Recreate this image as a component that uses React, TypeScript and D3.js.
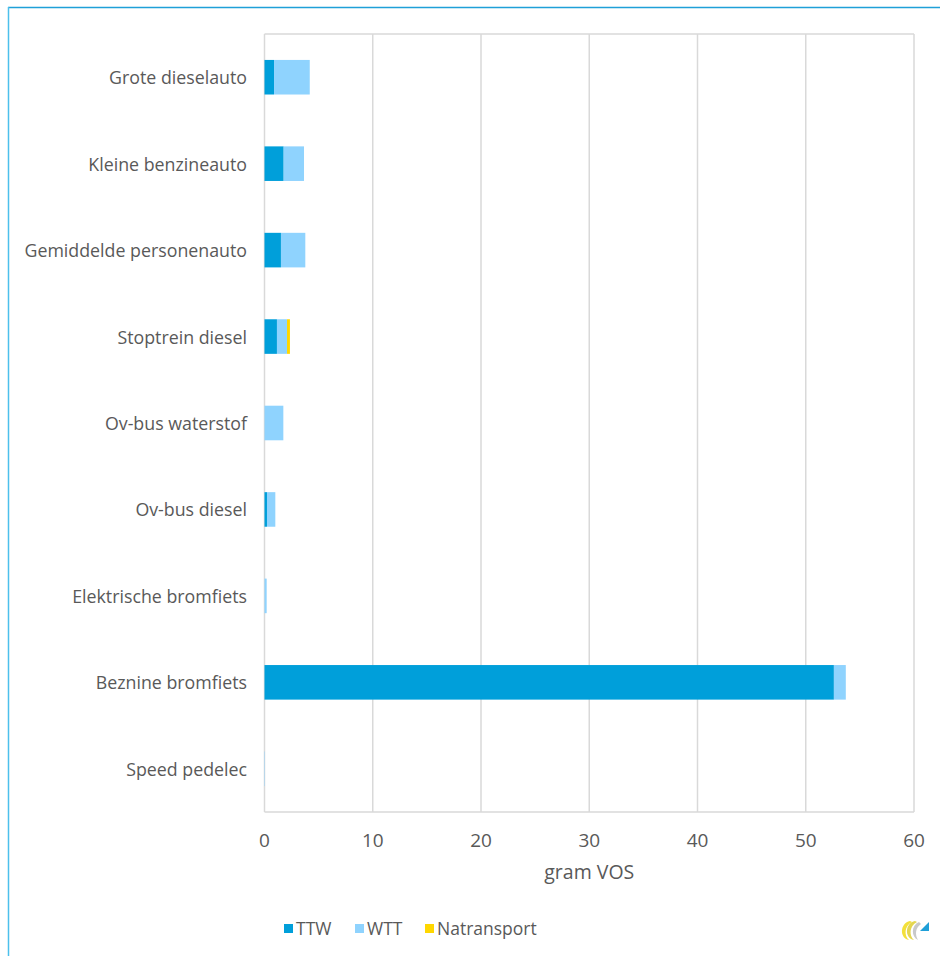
import React from "react";
import * as d3 from "d3";

const categories = [
  "Grote dieselauto",
  "Kleine benzineauto",
  "Gemiddelde personenauto",
  "Stoptrein diesel",
  "Ov-bus waterstof",
  "Ov-bus diesel",
  "Elektrische bromfiets",
  "Beznine bromfiets",
  "Speed pedelec",
];
const seriesNames = ["TTW", "WTT", "Natransport"];
const ttw = [0.88, 1.77, 1.52, 1.15, 0, 0.23, 0, 52.6, 0];
const wtt = [3.3, 1.88, 2.25, 0.93, 1.74, 0.77, 0.2, 1.1, 0.04];
const natransport = [0, 0, 0, 0.27, 0, 0, 0, 0, 0];
const xTicks = [0, 10, 20, 30, 40, 50, 60];
const colors = ["#009fda", "#8fd3fe", "#ffd700"];

const W = 940;
const H = 956;
const plot = { left: 264.5, right: 914, top: 34, bottom: 812 };
const FONT = "'Open Sans', 'Noto Sans', sans-serif";
const TEXT = "#595959";
const GRID = "#d9d9d9";

export default function App() {
  const x = d3.scaleLinear().domain([0, 60]).range([plot.left, plot.right]);
  const y = d3
    .scaleBand<string>()
    .domain(categories)
    .range([plot.top, plot.bottom])
    .paddingInner(0.6)
    .paddingOuter(0.3);

  const table = categories.map((c, i) => ({
    cat: c,
    TTW: ttw[i],
    WTT: wtt[i],
    Natransport: natransport[i],
  }));
  const stacked = d3.stack<any>().keys(seriesNames)(table);

  const legendItems = [
    { sx: 284, tx: 296 },
    { sx: 355, tx: 367 },
    { sx: 425, tx: 437 },
  ];

  return (
    <svg
      width={W}
      height={H}
      style={{ position: "absolute", left: 0, top: 0, display: "block", background: "#fff" }}
    >
      {/* outer frame */}
      <line x1={8} x2={W} y1={7.5} y2={7.5} stroke="#1fa0d8" strokeWidth={1.5} />
      <line x1={8.5} x2={8.5} y1={7} y2={H} stroke="#4cc0ec" strokeWidth={1.5} />

      {/* grid */}
      {xTicks.map((t) => (
        <line
          key={t}
          x1={x(t)}
          x2={x(t)}
          y1={plot.top}
          y2={plot.bottom}
          stroke={GRID}
          strokeWidth={1.5}
        />
      ))}
      <line x1={plot.left} x2={plot.right} y1={plot.top} y2={plot.top} stroke={GRID} strokeWidth={1.5} />
      <line x1={plot.left} x2={plot.right} y1={plot.bottom} y2={plot.bottom} stroke={GRID} strokeWidth={1.5} />

      {/* bars */}
      {stacked.map((s, si) => (
        <g key={s.key} fill={colors[si]}>
          {s.map((d, i) =>
            d[1] - d[0] > 0 ? (
              <rect
                key={i}
                x={x(d[0])}
                y={y(categories[i])}
                width={x(d[1]) - x(d[0])}
                height={y.bandwidth()}
              />
            ) : null
          )}
        </g>
      ))}

      {/* category labels */}
      {categories.map((c) => (
        <text
          key={c}
          x={247}
          y={(y(c) as number) + y.bandwidth() / 2}
          textAnchor="end"
          dominantBaseline="central"
          fontFamily={FONT}
          fontSize={17.8}
          fill={TEXT}
        >
          {c}
        </text>
      ))}

      {/* x tick labels */}
      {xTicks.map((t) => (
        <text
          key={t}
          x={x(t)}
          y={847}
          textAnchor="middle"
          fontFamily={FONT}
          fontSize={19}
          fill={TEXT}
        >
          {t}
        </text>
      ))}
      <text
        x={(plot.left + plot.right) / 2}
        y={879}
        textAnchor="middle"
        fontFamily={FONT}
        fontSize={19.5}
        fill={TEXT}
      >
        gram VOS
      </text>

      {/* legend */}
      {legendItems.map((l, i) => (
        <g key={seriesNames[i]}>
          <rect x={l.sx} y={924} width={9} height={9} fill={colors[i]} />
          <text x={l.tx} y={934.5} fontFamily={FONT} fontSize={17.5} fill={TEXT}>
            {seriesNames[i]}
          </text>
        </g>
      ))}

      {/* logo */}
      <g>
        <path d="M910 921 C900 923 899 938 909 940 C904 936 904 926 912 922 Z" fill="#f3e03a" />
        <path d="M915 921 C905 923 904 938 914 940 C909 936 909 926 917 922 Z" fill="#e4d650" />
        <path d="M919 922 C911 925 911 937 918 940 C915 935 915 928 921 924 Z" fill="#c9c9c9" />
        <path d="M920 931 L929 922 L929 931 Z" fill="#1f9fd8" />
      </g>
    </svg>
  );
}
